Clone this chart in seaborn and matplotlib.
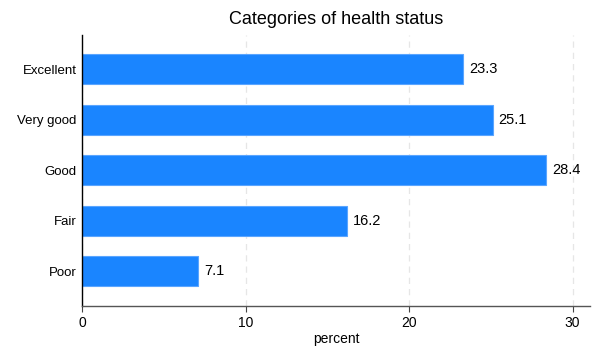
import pandas as pd
import seaborn as sns
import matplotlib.pyplot as plt

# values
categories = ['Excellent', 'Very good', 'Good', 'Fair', 'Poor']
percent = [23.3, 25.1, 28.4, 16.2, 7.1]
xticks = [0, 10, 20, 30]

data = pd.DataFrame({'status': categories, 'percent': percent})

sns.set_style('white')
plt.rcParams['font.family'] = ['Liberation Sans', 'DejaVu Sans']
plt.rcParams['text.color'] = 'black'
plt.rcParams['axes.labelcolor'] = 'black'
plt.rcParams['xtick.color'] = 'black'
plt.rcParams['ytick.color'] = 'black'

fig = plt.figure(figsize=(6, 3.6), dpi=100)
ax = fig.add_axes([0.137, 0.15, 0.846, 0.753])

sns.barplot(x='percent', y='status', data=data, orient='h', color='#1a85ff',
            width=0.6, edgecolor='#5aa5ff', linewidth=0.8, saturation=1, ax=ax)

for i, v in enumerate(percent):
    ax.text(v + 0.35, i, f'{v:.1f}', va='center', ha='left', fontsize=10.5, color='black')

ax.set_xlim(0, 31.05)
ax.set_ylim(4.69, -0.68)
ax.set_xticks(xticks)
ax.set_xticklabels([str(t) for t in xticks], fontsize=10)
ax.tick_params(axis='y', labelsize=9.5, length=0, pad=4)
ax.tick_params(axis='x', length=4, width=0.8, color='#444444', pad=3, bottom=True)
ax.grid(axis='x', linestyle=(0, (5, 4)), color='#e6e6e6', linewidth=0.9)
ax.set_axisbelow(True)

for side in ['top', 'right']:
    ax.spines[side].set_visible(False)
ax.spines['left'].set_color('black')
ax.spines['left'].set_linewidth(1.0)
ax.spines['bottom'].set_color('#555555')
ax.spines['bottom'].set_linewidth(1.0)

ax.set_xlabel('percent', fontsize=10, labelpad=2)
ax.set_ylabel('')
ax.set_title('Categories of health status', fontsize=13, pad=8)

fig.savefig('out.png', dpi=100, facecolor='white')
